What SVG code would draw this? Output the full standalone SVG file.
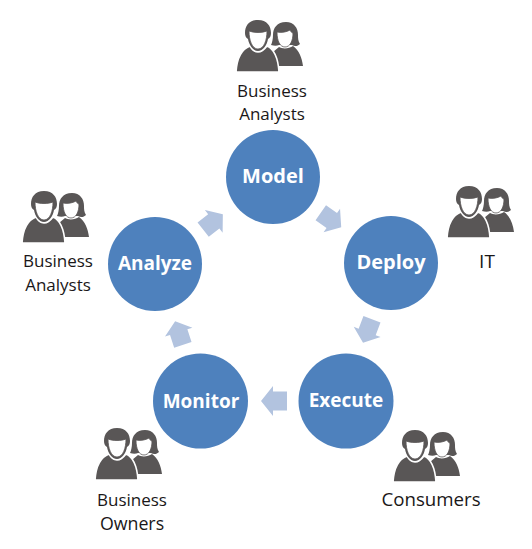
<svg xmlns="http://www.w3.org/2000/svg" width="532" height="549" viewBox="0 0 532 549">
<style>
.c{fill:#4e81bd}
.a{fill:#b2c3df}
.i{fill:#595656}
.f{fill:#fff;stroke:#595656;stroke-width:.8}
.b{stroke:#fff;stroke-width:1.6}
.n{font:700 20px "Open Sans","Noto Sans",sans-serif;fill:#fff;text-anchor:middle}
.s{font-size:19px}
.t{font:17px "Open Sans","Noto Sans",sans-serif;fill:#1a1718;text-anchor:middle}
</style>
<defs>
<path id="arrow" class="a" d="M-13 -9.500H1V-15L13 0L1 15V9.500H-13Z"/>
<g id="people">
<path class="i" d="M58 37C61 39 68 39 72 36C78 40 81 48 82 56H56L52 42Z"/>
<path class="i" d="M65 12C56 12 52 18 52 25C52 29 51 33 50 35C53 36 56 36 58 35L71 35C74 37 77 36 79 34C77 31 77 28 77 25C77 18 73 12 65 12Z"/>
<path class="f" d="M56 22C60 23 66 22 69 20C70 22 71 23 72 23C72 31 69 37 64 37C59 37 56 31 56 22Z"/>
<path class="i b" d="M29 36C21 39 16 47 15 62H58C57 47 53 39 46 36C43 40 41 42 37 42C33 42 31 40 29 36Z"/>
<path class="i" d="M37 10C28 10 24 16 24 23C24 26 25 28 27 29C28 35 32 41 37 41C42 41 46 35 47 29C49 28 50 26 50 23C50 16 46 10 37 10Z"/>
<path class="f" d="M28 21C33 23 41 23 46 21C46 30 43 39 37 39C31 39 28 30 28 21Z"/>
</g>
</defs>
<g id="connectors">
<use href="#arrow" transform="translate(213,222) rotate(-38) scale(.96)"/>
<use href="#arrow" transform="translate(331,220) rotate(35) scale(.96)"/>
<use href="#arrow" transform="translate(367.500,331) rotate(111) scale(.96)"/>
<use href="#arrow" transform="translate(274,401) rotate(180)"/>
<use href="#arrow" transform="translate(179,333) rotate(-108) scale(.96)"/>
</g>
<g id="model"><circle class="c" cx="273" cy="177" r="47"/><text class="n" x="273" y="183">Model</text></g>
<g id="deploy"><circle class="c" cx="391" cy="263" r="47"/><text class="n" x="391" y="269">Deploy</text></g>
<g id="execute"><circle class="c" cx="346" cy="401" r="47.5"/><text class="n s" x="346" y="407">Execute</text></g>
<g id="monitor"><circle class="c" cx="200.500" cy="401" r="47.500"/><text class="n s" x="201" y="408">Monitor</text></g>
<g id="analyze"><circle class="c" cx="155" cy="264" r="47"/><text class="n s" x="155" y="270">Analyze</text></g>
<g id="actor-model"><use href="#people" transform="translate(221,10)"/><text class="t" x="272" y="97">Business</text><text class="t" x="272" y="120">Analysts</text></g>
<g id="actor-deploy"><use href="#people" transform="translate(432,176)"/><text class="t" x="487" y="268" style="font-size:19px">IT</text></g>
<g id="actor-analyze"><use href="#people" transform="translate(7,181)"/><text class="t" x="58" y="267">Business</text><text class="t" x="58" y="291">Analysts</text></g>
<g id="actor-monitor"><use href="#people" transform="translate(80,418)"/><text class="t" x="132" y="506">Business</text><text class="t" x="132" y="530" style="font-size:17.800px">Owners</text></g>
<g id="actor-execute"><use href="#people" transform="translate(378,420)"/><text class="t" x="431" y="506" style="font-size:18.700px">Consumers</text></g>
</svg>
